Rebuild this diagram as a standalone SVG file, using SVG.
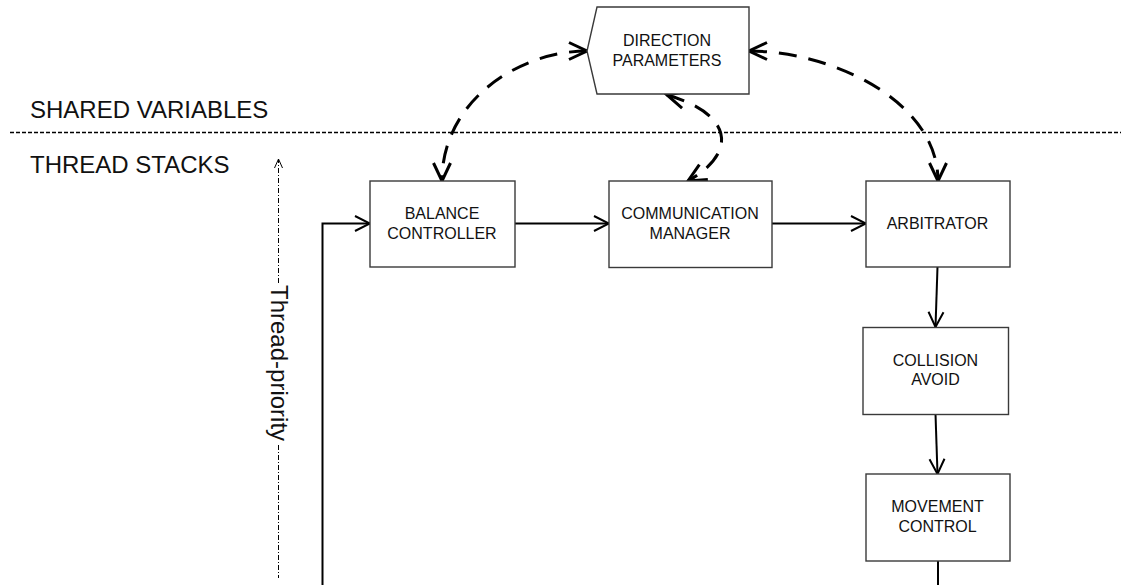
<svg xmlns="http://www.w3.org/2000/svg" width="1121" height="585" viewBox="0 0 1121 585">
<style>
.box{fill:#fff;stroke:#3a3a3a;stroke-width:1.4}
.lbl{font-family:"Liberation Sans",Arial,sans-serif;font-size:16px;fill:#111;text-anchor:middle}
.big{font-family:"Liberation Sans",Arial,sans-serif;font-size:24px;fill:#111}
.flow{fill:none;stroke:#000;stroke-width:2}
.share{fill:none;stroke:#000;stroke-width:3;stroke-dasharray:18 12}
</style>
<defs>
<marker id="ah" markerUnits="userSpaceOnUse" viewBox="0 0 20 20" markerWidth="20" markerHeight="20" refX="18" refY="10" orient="auto">
<path d="M3,2.5 L18,10 L3,17.5" fill="none" stroke="#000" stroke-width="2"/>
</marker>
<marker id="dh" markerUnits="userSpaceOnUse" viewBox="0 0 24 24" markerWidth="24" markerHeight="24" refX="21" refY="12" orient="auto-start-reverse">
<path d="M3,3.5 L21,12 L3,20.5" fill="none" stroke="#000" stroke-width="3"/>
</marker>
<marker id="th" markerUnits="userSpaceOnUse" viewBox="0 0 12 12" markerWidth="12" markerHeight="12" refX="11" refY="6" orient="auto">
<path d="M2,2 L11,6 L2,10" fill="none" stroke="#000" stroke-width="1"/>
</marker>
</defs>
<rect width="1121" height="585" fill="#fff"/>

<g id="regions">
<line x1="10" y1="132.5" x2="1121" y2="132.5" stroke="#000" stroke-width="1.5" stroke-dasharray="4 2"/>
<text class="big" x="30" y="118">SHARED VARIABLES</text>
<text class="big" x="30" y="173">THREAD STACKS</text>
</g>

<g id="thread-priority">
<line x1="278.5" y1="283" x2="278.5" y2="159" stroke="#000" stroke-width="1" stroke-dasharray="5 2 1 2" marker-end="url(#th)"/>
<line x1="278.5" y1="445" x2="278.5" y2="578" stroke="#000" stroke-width="1" stroke-dasharray="5 2 1 2"/>
<text class="big" transform="translate(270.5,285) rotate(90)">Thread-priority</text>
</g>

<g id="connectors">
<path class="share" d="M587,51 C520,51 442,100 442,181" marker-start="url(#dh)" marker-end="url(#dh)"/>
<path class="share" d="M667,95 C728,112 742,150 688,181" marker-start="url(#dh)" marker-end="url(#dh)"/>
<path class="share" d="M749,51 C830,51 938,100 938,181" marker-start="url(#dh)" marker-end="url(#dh)"/>
<line class="flow" x1="515" y1="223.5" x2="609" y2="223.5" marker-end="url(#ah)"/>
<line class="flow" x1="772" y1="223.5" x2="866" y2="223.5" marker-end="url(#ah)"/>
<line class="flow" x1="937.5" y1="267" x2="935.5" y2="327" marker-end="url(#ah)"/>
<line class="flow" x1="935.5" y1="414" x2="937.5" y2="474" marker-end="url(#ah)"/>
<path class="flow" d="M938,561 L938,585"/>
<path class="flow" d="M322.5,585 L322.5,223.5 L370,223.5" marker-end="url(#ah)"/>
</g>

<g id="direction-parameters">
<path class="box" d="M597,7 L749,7 L749,94 L597,94 L587,51 Z"/>
<text class="lbl" x="667" y="45.5">DIRECTION</text>
<text class="lbl" x="667" y="65.5">PARAMETERS</text>
</g>

<g id="balance-controller">
<rect class="box" x="370" y="181" width="145" height="86"/>
<text class="lbl" x="442" y="219">BALANCE</text>
<text class="lbl" x="442" y="239">CONTROLLER</text>
</g>

<g id="communication-manager">
<rect class="box" x="609" y="181" width="163" height="86.5"/>
<text class="lbl" x="690" y="219">COMMUNICATION</text>
<text class="lbl" x="690" y="239">MANAGER</text>
</g>

<g id="arbitrator">
<rect class="box" x="866" y="181" width="144" height="86"/>
<text class="lbl" x="937.5" y="229">ARBITRATOR</text>
</g>

<g id="collision-avoid">
<rect class="box" x="863" y="327.5" width="145.5" height="87"/>
<text class="lbl" x="935.5" y="366">COLLISION</text>
<text class="lbl" x="935.5" y="385">AVOID</text>
</g>

<g id="movement-control">
<rect class="box" x="866" y="474" width="144" height="87"/>
<text class="lbl" x="937.5" y="512">MOVEMENT</text>
<text class="lbl" x="937.5" y="531.5">CONTROL</text>
</g>
</svg>
